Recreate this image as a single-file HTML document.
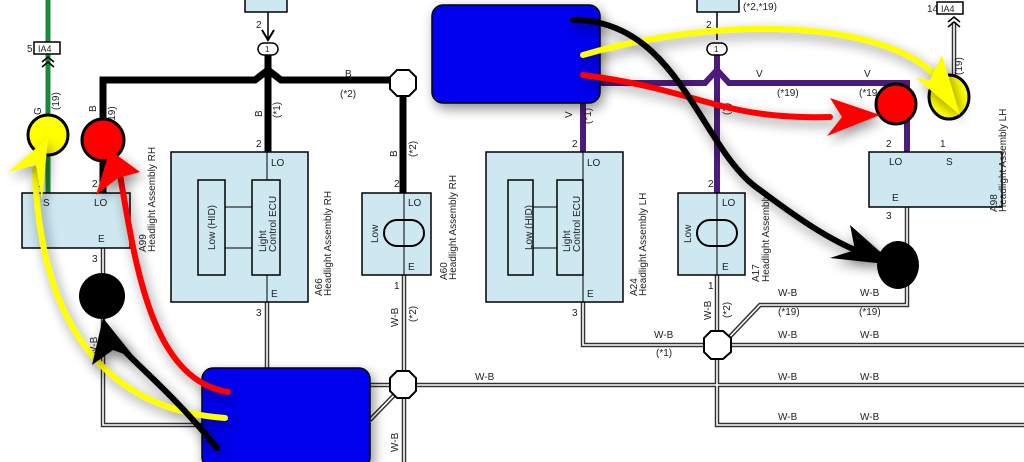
<!DOCTYPE html>
<html><head><meta charset="utf-8"><style>
html,body{margin:0;padding:0;background:#fff}
svg{display:block}
text{font-family:"Liberation Sans",sans-serif;font-size:10px;fill:#222}
</style></head><body>
<svg width="1024" height="462" viewBox="0 0 1024 462" xmlns="http://www.w3.org/2000/svg">
<defs>
<filter id="sh" x="-30%" y="-30%" width="160%" height="160%"><feGaussianBlur in="SourceAlpha" stdDeviation="6"/><feOffset dx="3" dy="5"/><feComponentTransfer><feFuncA type="linear" slope="0.45"/></feComponentTransfer><feMerge><feMergeNode/><feMergeNode in="SourceGraphic"/></feMerge></filter>
</defs>
<g fill="none" stroke-linejoin="miter">
<g stroke="#333" stroke-width="4.5">
<path d="M103 248V425H230"/><path d="M267 302V380"/><path d="M404 275V462"/><path d="M370 385H1024"/><path d="M583 302V345H1024"/><path d="M907 207V305H760L722 345"/><path d="M717 275V425H1024"/><path d="M370 420L404 385"/><path d="M954 22V80"/>
</g>
<g stroke="#fff" stroke-width="1.6">
<path d="M103 248V425H230"/><path d="M267 302V380"/><path d="M404 275V462"/><path d="M370 385H1024"/><path d="M583 302V345H1024"/><path d="M907 207V305H760L722 345"/><path d="M717 275V425H1024"/><path d="M370 420L404 385"/><path d="M954 22V80"/>
</g>
</g>
<path d="M48 0V193" stroke="#1a8a3a" stroke-width="5" fill="none"/>
<g stroke="#000" stroke-width="7" fill="none">
<path d="M103 193V80H255L268 70L281 80H390"/><path d="M268 55V152"/><path d="M403 95V193"/>
</g>
<path d="M268 12V40" stroke="#000" stroke-width="1.5"/>
<path d="M262 30L268 40L274 30" stroke="#000" stroke-width="2" fill="none"/>
<g stroke="#4b1a7a" stroke-width="6" fill="none">
<path d="M590 83H705L717 70L729 83H907V152"/><path d="M717 55V193"/><path d="M583 100V152"/>
</g>
<path d="M717 12V40" stroke="#000" stroke-width="1.5"/>
<rect x="245" y="-2" width="42" height="14" fill="#cde8f0" stroke="#000" stroke-width="1.5"/>
<rect x="697" y="-2" width="42" height="14" fill="#cde8f0" stroke="#000" stroke-width="1.5"/>
<text x="743" y="10">(*2,*19)</text>
<text x="256" y="28">2</text><text x="706" y="28">2</text>
<rect x="258" y="43" width="20" height="12" rx="6" fill="#fff" stroke="#000" stroke-width="1.5"/><text x="265" y="52" style="font-size:8px">1</text>
<rect x="707" y="43" width="20" height="12" rx="6" fill="#fff" stroke="#000" stroke-width="1.5"/><text x="714" y="52" style="font-size:8px">1</text>
<rect x="34" y="42" width="26" height="12" fill="#fff" stroke="#000" stroke-width="1.5"/><text x="38" y="52" style="font-size:9px">IA4</text><text x="27" y="52">5</text>
<path d="M42 62L48 57L54 62M42 67L48 62L54 67" stroke="#000" stroke-width="1.5" fill="none"/>
<rect x="937" y="2" width="26" height="12" fill="#fff" stroke="#000" stroke-width="1.5"/><text x="941" y="12" style="font-size:9px">IA4</text><text x="927" y="12">14</text>
<path d="M948 22L954 17L960 22M948 27L954 22L960 27" stroke="#000" stroke-width="1.5" fill="none"/>
<path d="M397 70H409L416 77V89L409 96H397L390 89V77Z" fill="#fff" stroke="#000" stroke-width="2"/>
<path d="M397 371H409L416 378V391L409 398H397L390 391V378Z" fill="#fff" stroke="#000" stroke-width="2"/>
<path d="M711 331H723L731 338V352L723 359H711L704 352V338Z" fill="#fff" stroke="#000" stroke-width="2"/>
<!-- A99 -->
<rect x="22" y="193" width="108" height="55" fill="#cde8f0" stroke="#000" stroke-width="1.5"/>
<text x="43" y="206">S</text><text x="94" y="206">LO</text><text x="98" y="242">E</text>
<text x="37" y="187">1</text><text x="92" y="187">2</text><text x="92" y="262">3</text>
<text transform="translate(146,252) rotate(-90)">A99</text><text transform="translate(155,252) rotate(-90)">Headlight Assembly RH</text>
<!-- A66 -->
<rect x="171" y="152" width="137" height="150" fill="#cde8f0" stroke="#000" stroke-width="1.5"/>
<path d="M267 152V302" stroke="#000"/>
<rect x="198" y="180" width="27" height="95" fill="#cde8f0" stroke="#000" stroke-width="1.5"/>
<rect x="252" y="180" width="28" height="95" fill="#cde8f0" stroke="#000" stroke-width="1.5"/>
<path d="M225 207H252M225 248H252" stroke="#000"/>
<text x="271" y="166">LO</text><text x="271" y="297">E</text><text x="256" y="147">2</text><text x="256" y="316">3</text>
<text transform="translate(215,250) rotate(-90)">Low (HID)</text>
<text transform="translate(266,252) rotate(-90)">Light</text><text transform="translate(276,252) rotate(-90)">Control ECU</text>
<text transform="translate(322,296) rotate(-90)">A66</text><text transform="translate(331,296) rotate(-90)">Headlight Assembly RH</text>
<!-- A60 -->
<rect x="362" y="193" width="69" height="82" fill="#cde8f0" stroke="#000" stroke-width="1.5"/>
<path d="M404 193V275" stroke="#000"/>
<rect x="384" y="220" width="40" height="26" rx="13" fill="none" stroke="#000" stroke-width="2"/>
<text x="408" y="206">LO</text><text x="408" y="270">E</text><text x="394" y="187">2</text><text x="394" y="289">1</text>
<text transform="translate(378,243) rotate(-90)">Low</text>
<text transform="translate(447,280) rotate(-90)">A60</text><text transform="translate(456,280) rotate(-90)">Headlight Assembly RH</text>
<!-- A24 -->
<rect x="486" y="152" width="137" height="150" fill="#cde8f0" stroke="#000" stroke-width="1.5"/>
<path d="M583 152V302" stroke="#000"/>
<rect x="508" y="180" width="25" height="95" fill="#cde8f0" stroke="#000" stroke-width="1.5"/>
<rect x="557" y="180" width="26" height="95" fill="#cde8f0" stroke="#000" stroke-width="1.5"/>
<path d="M533 207H557M533 248H557" stroke="#000"/>
<text x="587" y="166">LO</text><text x="587" y="297">E</text><text x="572" y="147">2</text><text x="572" y="316">3</text>
<text transform="translate(532,250) rotate(-90)">Low (HID)</text>
<text transform="translate(570,252) rotate(-90)">Light</text><text transform="translate(580,252) rotate(-90)">Control ECU</text>
<text transform="translate(637,296) rotate(-90)">A24</text><text transform="translate(646,296) rotate(-90)">Headlight Assembly LH</text>
<!-- A17 -->
<rect x="678" y="193" width="67" height="82" fill="#cde8f0" stroke="#000" stroke-width="1.5"/>
<path d="M717 193V275" stroke="#000"/>
<rect x="697" y="220" width="40" height="26" rx="13" fill="none" stroke="#000" stroke-width="2"/>
<text x="722" y="206">LO</text><text x="722" y="270">E</text><text x="708" y="187">2</text><text x="708" y="289">1</text>
<text transform="translate(691,243) rotate(-90)">Low</text>
<text transform="translate(759,282) rotate(-90)">A17</text><text transform="translate(769,282) rotate(-90)">Headlight Assembly</text>
<!-- A98 -->
<rect x="869" y="152" width="133" height="55" fill="#cde8f0" stroke="#000" stroke-width="1.5"/>
<text x="889" y="165">LO</text><text x="946" y="165">S</text><text x="892" y="201">E</text>
<text x="886" y="147">2</text><text x="940" y="147">1</text><text x="886" y="219">3</text>
<text transform="translate(997,212) rotate(-90)">A98</text><text transform="translate(1006,212) rotate(-90)">Headlight Assembly LH</text>
<g style="font-size:9px">
<text x="345" y="77">B</text><text x="340" y="97">(*2)</text>
<text transform="translate(96,112) rotate(-90)">B</text><text transform="translate(115,128) rotate(-90)">(*19)</text>
<text transform="translate(41,115) rotate(-90)">G</text><text transform="translate(59,110) rotate(-90)">(19)</text>
<text transform="translate(262,117) rotate(-90)">B</text><text transform="translate(280,118) rotate(-90)">(*1)</text>
<text transform="translate(397,157) rotate(-90)">B</text><text transform="translate(416,157) rotate(-90)">(*2)</text>
<text x="756" y="77">V</text><text x="777" y="96">(*19)</text><text x="864" y="77">V</text><text x="859" y="96">(*19</text>
<text transform="translate(572,118) rotate(-90)">V</text><text transform="translate(591,124) rotate(-90)">(*1)</text>
<text transform="translate(730,115) rotate(-90)">(2)</text>
<text transform="translate(962,75) rotate(-90)">(19)</text>
<text transform="translate(398,327) rotate(-90)">W-B</text><text transform="translate(416,322) rotate(-90)">(*2)</text>
<text transform="translate(711,320) rotate(-90)">W-B</text><text transform="translate(730,318) rotate(-90)">(*2)</text>
<text transform="translate(97,356) rotate(-90)">W-B</text>
<text transform="translate(398,452) rotate(-90)">W-B</text>
<text x="475" y="380">W-B</text>
<text x="654" y="338">W-B</text><text x="656" y="356">(*1)</text>
<text x="778" y="296">W-B</text><text x="778" y="315">(*19)</text><text x="860" y="296">W-B</text><text x="859" y="315">(*19)</text>
<text x="778" y="338">W-B</text><text x="860" y="338">W-B</text>
<text x="778" y="380">W-B</text><text x="860" y="380">W-B</text>
<text x="778" y="420">W-B</text><text x="860" y="420">W-B</text>
</g>
<circle cx="48" cy="135" r="20" fill="#ffff00" stroke="#000" stroke-width="3"/>
<circle cx="103" cy="140" r="21" fill="#ff0000" stroke="#000" stroke-width="3"/>
<circle cx="896" cy="104" r="20" fill="#ff0000" stroke="#000" stroke-width="3"/>
<ellipse cx="949" cy="97" rx="20" ry="22" fill="#ffff00" stroke="#000" stroke-width="3"/>
<circle cx="102" cy="296" r="23" fill="#000"/>
<ellipse cx="898" cy="265" rx="21" ry="24" fill="#000"/>
<rect x="432" y="5" width="168" height="98" rx="11" fill="#0000ee" stroke="#000" stroke-width="1.5" filter="url(#sh)"/>
<rect x="202" y="368" width="168" height="100" rx="11" fill="#0000ee" stroke="#000" stroke-width="1.5" filter="url(#sh)"/>
<g fill="none" stroke-linecap="round" filter="url(#sh)">
<path d="M225 418C110 410 40 330 35 170" stroke="#ffff00" stroke-width="6"/>
<path d="M228 392C150 380 135 260 120 175" stroke="#ff0000" stroke-width="6"/>
<path d="M217 448C170 390 130 360 115 340" stroke="#000" stroke-width="6"/>
<path d="M583 55C720 15 880 20 935 75" stroke="#ffff00" stroke-width="6"/>
<path d="M583 75C700 90 720 120 830 117" stroke="#ff0000" stroke-width="6"/>
<path d="M573 20C680 20 700 150 760 190C800 220 830 240 860 252" stroke="#000" stroke-width="6"/>
</g>
<g filter="url(#sh)">
<path d="M48 138L8 172L36 165L42 200Z" fill="#ffff00"/>
<path d="M110 150L96 195L118 178L140 172Z" fill="#ff0000"/>
<path d="M103 318L92 365L113 350L135 358Z" fill="#000"/>
<path d="M960 115L916 78L930 80L942 55Z" fill="#ffff00"/>
<path d="M880 115L830 98L842 117L827 136Z" fill="#ff0000"/>
<path d="M895 265L850 225L855 250L830 258Z" fill="#000"/>
</g>
</svg>
</body></html>
